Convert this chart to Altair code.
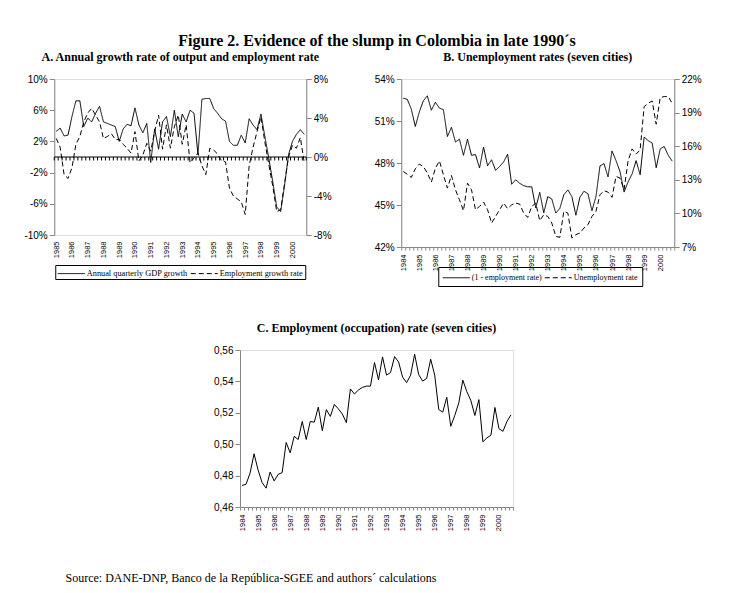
import altair as alt
import pandas as pd

SERIF = "Liberation Serif"

# ---------------- data ----------------
# Panel A: quarterly, 1985Q1 - 2000Q4
gdp_growth = [3.3, 3.7, 2.7, 2.8, 5.2, 7.2, 7.2, 3.9, 5.0, 4.5,
              5.6, 6.5, 4.5, 4.3, 4.1, 3.9, 2.0, 3.6, 4.2, 4.0,
              6.3, 4.1, 3.1, 4.3, -0.7, 3.6, 1.0, 4.5, 5.2, 2.6,
              6.0, 2.6, 5.5, 4.5, 6.0, 5.6, 0.3, 7.4, 7.5, 7.5,
              6.2, 5.6, 4.9, 4.6, 2.0, 1.5, 1.5, 2.8, 1.8, 4.9,
              4.1, 3.5, 5.5, 2.6, -0.2, -3.2, -6.4, -7.0, -3.6, 0.3,
              2.0, 2.9, 3.5, 2.9]
emp_growth = [1.9, 1.0, -1.8, -2.2, -1.1, 1.3, 2.1, 3.6, 4.5, 5.0,
              4.3, 3.6, 1.9, 2.1, 2.4, 1.8, 1.8, 1.3, 0.9, 0.4,
              2.6, -0.4, 0.2, 1.4, 0.6, 2.6, 4.3, 0.8, 3.3, 0.9,
              3.1, 4.3, 1.3, 3.3, -0.6, -0.1, 0.4, -0.9, -1.8, 0.9,
              0.7, 0.3, -0.4, -0.5, -3.2, -4.0, -4.3, -4.6, -5.9, -0.9,
              1.0, 2.6, 4.1, 1.5, -0.8, -3.0, -5.6, -5.4, -2.7, 0.0,
              1.2, 0.9, 2.0, -0.6]
a_series = ["Annual quarterly GDP growth", "Employment growth rate"]
a_first_year = 1985

# Panel B and C: quarterly, 1984Q1 - 2000Q4
one_minus_emp = [52.63, 52.55, 51.85, 50.61, 51.64, 52.44, 52.80, 51.77, 52.34, 51.92,
                 51.81, 49.89, 50.55, 49.50, 49.70, 48.55, 49.70, 48.55, 48.60, 47.64,
                 49.14, 47.80, 48.23, 47.47, 47.75, 48.08, 48.63, 46.48, 46.80, 46.55,
                 46.38, 46.30, 46.30, 44.80, 45.90, 44.44, 45.60, 45.43, 44.42, 44.76,
                 45.73, 46.08, 45.60, 44.27, 45.56, 45.98, 45.81, 44.59, 45.60, 47.79,
                 47.96, 47.01, 48.86, 48.17, 47.37, 45.92, 46.65, 47.22, 48.17, 47.16,
                 49.85, 49.60, 49.43, 47.66, 49.01, 49.18, 48.55, 48.13]
unemp = [13.74, 13.50, 13.21, 13.98, 14.40, 14.19, 13.60, 12.79, 14.04, 14.69,
         13.45, 12.26, 13.39, 12.11, 11.22, 10.24, 12.70, 12.11, 10.33, 10.62,
         11.01, 10.33, 9.14, 9.73, 10.33, 10.92, 10.42, 10.77, 10.92, 10.83,
         10.03, 9.64, 10.62, 10.92, 9.35, 9.88, 9.73, 9.14, 7.95, 7.86,
         10.18, 10.03, 7.80, 8.10, 8.25, 8.69, 8.99, 9.73, 10.18, 11.66,
         12.02, 11.90, 11.43, 13.30, 13.15, 12.11, 14.69, 15.76, 15.29, 15.67,
         19.53, 19.83, 20.04, 17.96, 20.34, 20.43, 20.43, 19.83]
b_series = ["(1 - employment rate)", "Unemployment rate"]
emp_rate = [0.4737, 0.4745, 0.4815, 0.4939, 0.4836, 0.4756, 0.4720, 0.4823, 0.4766, 0.4808,
            0.4819, 0.5011, 0.4945, 0.5050, 0.5030, 0.5145, 0.5030, 0.5145, 0.5140, 0.5236,
            0.5086, 0.5220, 0.5177, 0.5253, 0.5225, 0.5192, 0.5137, 0.5352, 0.5320, 0.5345,
            0.5362, 0.5370, 0.5370, 0.5520, 0.5410, 0.5556, 0.5440, 0.5457, 0.5558, 0.5524,
            0.5427, 0.5392, 0.5440, 0.5573, 0.5444, 0.5402, 0.5419, 0.5541, 0.5440, 0.5221,
            0.5204, 0.5299, 0.5114, 0.5183, 0.5263, 0.5408, 0.5335, 0.5278, 0.5183, 0.5284,
            0.5015, 0.5040, 0.5057, 0.5234, 0.5099, 0.5082, 0.5145, 0.5187]
bc_first_year = 1984

a_left_ticks = [-10, -6, -2, 2, 6, 10]
a_right_ticks = [-8, -4, 0, 4, 8]
b_left_ticks = [42, 45, 48, 51, 54]
b_right_ticks = [7, 10, 13, 16, 19, 22]
c_ticks = [0.46, 0.48, 0.50, 0.52, 0.54, 0.56]

main_title = "Figure 2. Evidence of the slump in Colombia in late 1990\u00b4s"
title_a = "A. Annual growth rate of output and employment rate"
title_b = "B. Unemployment rates (seven cities)"
title_c = "C. Employment (occupation) rate (seven cities)"
source_text = "Source: DANE-DNP, Banco de la Rep\u00fablica-SGEE and authors\u00b4 calculations"

# ---------------- helpers ----------------
def panel_title(t):
    return alt.TitleParams(t, font=SERIF, fontSize=12, fontWeight="bold", anchor="middle",
                           frame="group", offset=10, color="black")

def dash_legend(lx, ly, pad, fs):
    return alt.Legend(title=None, orient="none", legendX=lx, legendY=ly,
                      direction="horizontal",
                      strokeColor="black", padding=pad, labelFont=SERIF, labelFontSize=fs,
                      labelColor="black", symbolType="M-1,0H3.5", symbolStrokeWidth=1,
                      symbolStrokeColor="black", symbolSize=144, labelOffset=16.5,
                      columnPadding=0, labelLimit=300)

def pct_expr():
    return "datum.value + '%'"

def y_axis(vals, orient, expr, min_extent=30):
    return alt.Axis(values=vals, labelExpr=expr, title=None, orient=orient,
                    grid=False, labelOverlap=False, minExtent=min_extent)

nA = len(gdp_growth)
nB = len(emp_rate)

# ---------------- panel A ----------------
dfA1 = pd.DataFrame({"q": range(nA), "v": gdp_growth, "s": a_series[0]})
dfA2 = pd.DataFrame({"q": range(nA), "v": emp_growth, "s": a_series[1]})
dfA_tick = pd.DataFrame({"q": [k - 0.5 for k in range(nA + 1)], "v": 0.0, "v2": -0.45})
dfA_zero = pd.DataFrame({"v": [0.0]})

xA_scale = alt.Scale(domain=[-0.5, nA - 0.5], nice=False, zero=False)
xA_axis = alt.Axis(values=list(range(0, nA, 4)),
                   labelExpr=f"toString({a_first_year} + datum.value / 4)",
                   ticks=False, domain=False, title=None, labelAngle=270, grid=False,
                   labelFontSize=7.5, labelPadding=6, labelOverlap=False)
dashA = alt.Scale(domain=a_series, range=[[1, 0], [5, 3]])

yA_left = alt.Scale(domain=[-10, 10], nice=False, zero=False)
yA_left_axis = y_axis(a_left_ticks, "left", pct_expr())
legA = dash_legend(1, 186, 2, 8.3)

lineA1 = alt.Chart(dfA1).mark_line(color="black", strokeWidth=1).encode(
    x=alt.X("q:Q", scale=xA_scale, axis=xA_axis),
    y=alt.Y("v:Q", scale=yA_left, axis=yA_left_axis),
    strokeDash=alt.StrokeDash("s:N", scale=dashA, legend=legA),
)
zeroA = alt.Chart(dfA_zero).mark_rule(color="black", strokeWidth=1).encode(
    y=alt.Y("v:Q", scale=yA_left, axis=yA_left_axis),
)
ticksA = alt.Chart(dfA_tick).mark_rule(color="black", strokeWidth=1).encode(
    x=alt.X("q:Q", scale=xA_scale, axis=xA_axis),
    y=alt.Y("v:Q", scale=yA_left, axis=yA_left_axis),
    y2="v2:Q",
)
lineA2 = alt.Chart(dfA2).mark_line(color="black", strokeWidth=1).encode(
    x=alt.X("q:Q", scale=xA_scale, axis=xA_axis),
    y=alt.Y("v:Q", scale=alt.Scale(domain=[-8, 8], nice=False, zero=False),
            axis=y_axis(a_right_ticks, "right", pct_expr())),
    strokeDash=alt.StrokeDash("s:N", scale=dashA, legend=legA),
)
chartA = alt.layer(alt.layer(lineA1, zeroA, ticksA), lineA2).resolve_scale(
    y="independent").properties(width=252, height=156, title=panel_title(title_a))

# ---------------- panel B ----------------
xBC_scale = alt.Scale(domain=[-0.5, nB - 0.5], nice=False, zero=False)
xBC_axis = alt.Axis(values=[k - 0.5 for k in range(nB + 1)],
                    labelExpr=f"((datum.value + 0.5) % 4 == 0 && datum.value < {nB - 1}) ? toString({bc_first_year} + (datum.value + 0.5) / 4) : ''",
                    title=None, labelAngle=270, labelFontSize=7.5, labelOffset=2, grid=False,
                    labelOverlap=False, tickSize=3, labelPadding=4)

dfB1 = pd.DataFrame({"q": range(nB), "v": one_minus_emp, "s": b_series[0]})
dfB2 = pd.DataFrame({"q": range(nB), "v": unemp, "s": b_series[1]})
dashB = alt.Scale(domain=b_series, range=[[1, 0], [5, 3]])
legB = dash_legend(37, 188, 4, 8)

lineB1 = alt.Chart(dfB1).mark_line(color="black", strokeWidth=1).encode(
    x=alt.X("q:Q", scale=xBC_scale, axis=xBC_axis),
    y=alt.Y("v:Q", scale=alt.Scale(domain=[42, 54], nice=False, zero=False),
            axis=y_axis(b_left_ticks, "left", pct_expr())),
    strokeDash=alt.StrokeDash("s:N", scale=dashB, legend=legB),
)
lineB2 = alt.Chart(dfB2).mark_line(color="black", strokeWidth=1).encode(
    x=alt.X("q:Q", scale=xBC_scale, axis=xBC_axis),
    y=alt.Y("v:Q", scale=alt.Scale(domain=[7, 22], nice=False, zero=False),
            axis=y_axis(b_right_ticks, "right", pct_expr())),
    strokeDash=alt.StrokeDash("s:N", scale=dashB, legend=legB),
)
chartB = alt.layer(lineB1, lineB2).resolve_scale(y="independent").properties(
    width=273, height=168, title=panel_title(title_b))

# ---------------- panel C ----------------
dfC = pd.DataFrame({"q": range(nB), "v": emp_rate})
chartC = alt.Chart(dfC).mark_line(color="black", strokeWidth=1).encode(
    x=alt.X("q:Q", scale=xBC_scale, axis=xBC_axis),
    y=alt.Y("v:Q", scale=alt.Scale(domain=[0.46, 0.56], nice=False, zero=False),
            axis=y_axis(c_ticks, "left", "replace(format(datum.value, '.2f'), '.', ',')",
                        min_extent=34)),
).properties(width=273, height=157, title=panel_title(title_c))

# ---------------- source line ----------------
dfS = pd.DataFrame({"t": [source_text]})
source = alt.Chart(dfS).mark_text(font=SERIF, fontSize=12, align="left", baseline="middle",
                                  color="black").encode(
    text="t:N", x=alt.value(0), y=alt.value(12)
).properties(width=628, height=20, view=alt.ViewBackground(strokeOpacity=0))

row1 = alt.hconcat(chartA, chartB, spacing=33).resolve_scale(strokeDash="independent")

chart = alt.vconcat(row1, chartC, source, spacing=34, center=True).properties(
    title=alt.TitleParams(main_title, font=SERIF, fontSize=16, fontWeight="bold",
                          anchor="middle", offset=2, dx=13, color="black"),
    padding={"left": 15, "top": 24, "right": 5, "bottom": 5},
).configure_view(stroke="black", strokeWidth=1).configure_axis(
    labelFont=SERIF, labelFontSize=8, labelColor="black", tickColor="black",
    domainColor="black", grid=False, tickSize=4, labelPadding=2
).configure(background="white")

chart.save("out.html", embed_options={"renderer": "svg", "actions": False})
